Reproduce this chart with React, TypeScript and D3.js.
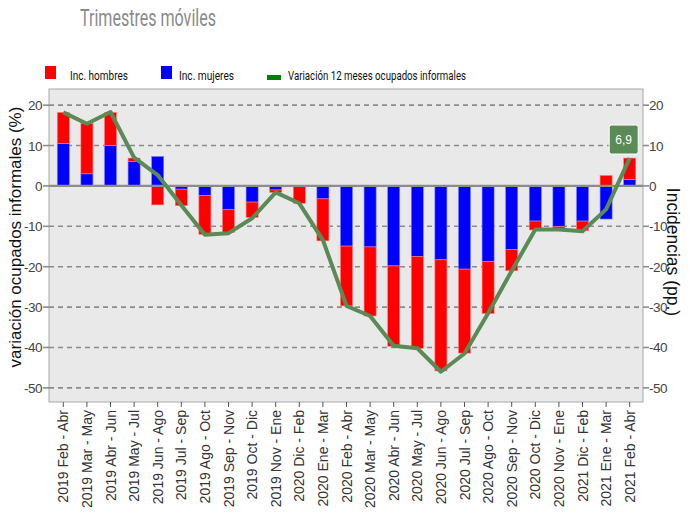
import React, { useRef, useEffect } from "react";
import * as d3 from "d3";

const categories = [
  "2019 Feb - Abr", "2019 Mar - May", "2019 Abr - Jun", "2019 May - Jul", "2019 Jun - Ago",
  "2019 Jul - Sep", "2019 Ago - Oct", "2019 Sep - Nov", "2019 Oct - Dic", "2019 Nov - Ene",
  "2020 Dic - Feb", "2020 Ene - Mar", "2020 Feb - Abr", "2020 Mar - May", "2020 Abr - Jun",
  "2020 May - Jul", "2020 Jun - Ago", "2020 Jul - Sep", "2020 Ago - Oct", "2020 Sep - Nov",
  "2020 Oct - Dic", "2020 Nov - Ene", "2021 Dic - Feb", "2021 Ene - Mar", "2021 Feb - Abr",
];

// incidencia mujeres (pp.)
const mujeres = [
  10.5, 3.0, 10.0, 6.0, 7.3, -0.8, -2.4, -5.9, -4.0, -1.0,
  0.0, -3.2, -14.9, -15.1, -19.8, -17.5, -18.3, -20.6, -18.7, -15.7,
  -8.7, -10.1, -8.7, -8.2, 1.6,
];

// incidencia hombres (pp.)
const hombres = [
  7.7, 12.5, 8.2, 0.9, -4.7, -4.1, -9.6, -5.6, -3.8, -0.6,
  -4.3, -10.4, -14.8, -17.1, -19.9, -22.7, -27.5, -20.8, -12.9, -5.3,
  -2.2, -0.6, -2.4, 2.6, 5.3,
];

// variación 12 meses ocupados informales (%)
const variacion = [
  18.2, 15.4, 18.3, 7.0, 2.7, -4.8, -12.1, -11.7, -8.0, -1.6,
  -4.3, -13.4, -29.7, -32.2, -39.6, -40.2, -46.0, -41.5, -31.5, -21.0,
  -10.8, -10.8, -11.2, -5.8, 6.9,
];

const yTicks = [20, 10, 0, -10, -20, -30, -40, -50];

const App = () => {
  const svgRef = useRef<SVGSVGElement>(null);

  useEffect(() => {
    const width = 690;
    const height = 514;
    const plot = { left: 49, right: 643, top: 89, bottom: 402 };

    const svg = d3.select(svgRef.current);
    svg.selectAll("*").remove();

    const x = d3
      .scaleBand()
      .domain(categories)
      .range([51.5, 641.5])
      .paddingInner(0.49)
      .paddingOuter(0.245);

    const xc = (d: string) => (x(d) as number) + x.bandwidth() / 2;

    const y = d3.scaleLinear().domain([-53.5, 24]).range([plot.bottom, plot.top]);

    // title
    svg
      .append("text")
      .attr("x", 80)
      .attr("y", 26)
      .attr("fill", "#8a8a8a")
      .attr("textLength", 136)
      .attr("lengthAdjust", "spacingAndGlyphs")
      .style("font-family", "Roboto, 'DejaVu Sans'")
      .style("font-weight", 400)
      .style("font-size", "24px")
      .text("Trimestres móviles");

    // legend
    const legFont = "Roboto, 'DejaVu Sans'";
    const legendItems = [
      { label: "Inc. hombres", color: "#ff0000", x: 45, tx: 70, w: 58, kind: "rect" },
      { label: "Inc. mujeres", color: "#0000ff", x: 161, tx: 179, w: 55, kind: "rect" },
      { label: "Variación 12 meses ocupados informales", color: "#008000", x: 267, tx: 288, w: 178, kind: "line" },
    ];
    const legend = svg.append("g");
    legendItems.forEach((it) => {
      if (it.kind === "rect") {
        legend
          .append("rect")
          .attr("x", it.x)
          .attr("y", 66)
          .attr("width", 11)
          .attr("height", 13)
          .attr("fill", it.color);
      } else {
        legend
          .append("rect")
          .attr("x", it.x)
          .attr("y", 75)
          .attr("width", 14)
          .attr("height", 5)
          .attr("fill", it.color);
      }
      legend
        .append("text")
        .attr("x", it.tx)
        .attr("y", 80)
        .attr("fill", "#111")
        .attr("textLength", it.w)
        .attr("lengthAdjust", "spacingAndGlyphs")
        .style("font-family", legFont)
        .style("font-size", "13.5px")
        .text(it.label);
    });

    // plot background
    svg
      .append("rect")
      .attr("x", plot.left)
      .attr("y", plot.top)
      .attr("width", plot.right - plot.left)
      .attr("height", plot.bottom - plot.top)
      .attr("fill", "#e9e9e9")
      .attr("stroke", "#a8a8a8")
      .attr("stroke-width", 1);

    // grid lines
    svg
      .append("g")
      .selectAll("line")
      .data(yTicks.filter((t) => t !== 0))
      .enter()
      .append("line")
      .attr("x1", plot.left)
      .attr("x2", plot.right)
      .attr("y1", (d) => y(d))
      .attr("y2", (d) => y(d))
      .attr("stroke", "#8c8c8c")
      .attr("stroke-width", 1.6)
      .attr("stroke-dasharray", "5,4");

    // stacked bars: mujeres first, hombres on top (separate stacks for + and -)
    const barData: { cat: string; y0: number; y1: number; color: string }[] = [];
    categories.forEach((c, i) => {
      let pos = 0;
      let neg = 0;
      [
        { v: mujeres[i], color: "#0000ff" },
        { v: hombres[i], color: "#ff0000" },
      ].forEach((s) => {
        if (s.v >= 0) {
          barData.push({ cat: c, y0: pos, y1: pos + s.v, color: s.color });
          pos += s.v;
        } else {
          barData.push({ cat: c, y0: neg, y1: neg + s.v, color: s.color });
          neg += s.v;
        }
      });
    });

    svg
      .append("g")
      .selectAll("rect")
      .data(barData)
      .enter()
      .append("rect")
      .attr("x", (d) => x(d.cat) as number)
      .attr("width", x.bandwidth())
      .attr("y", (d) => y(Math.max(d.y0, d.y1)))
      .attr("height", (d) => Math.abs(y(d.y0) - y(d.y1)))
      .attr("fill", (d) => d.color)
      .attr("stroke", (d) => (d.color === "#ff0000" ? "#ff8080" : "#8080ff"))
      .attr("stroke-width", 0.6);

    // zero line
    svg
      .append("line")
      .attr("x1", plot.left)
      .attr("x2", plot.right)
      .attr("y1", y(0))
      .attr("y2", y(0))
      .attr("stroke", "#8c8c8c")
      .attr("stroke-width", 2.2);

    // variation line
    const line = d3
      .line<number>()
      .x((_, i) => xc(categories[i]))
      .y((d) => y(d));

    svg
      .append("path")
      .datum(variacion)
      .attr("fill", "none")
      .attr("stroke", "#5a8a55")
      .attr("stroke-width", 4)
      .attr("stroke-linejoin", "round")
      .attr("d", line);

    // last value label
    const last = variacion.length - 1;
    const lx = xc(categories[last]) - 6;
    const ly = y(variacion[last]) - 18;
    svg
      .append("rect")
      .attr("x", lx - 14.5)
      .attr("y", ly - 15)
      .attr("width", 29)
      .attr("height", 29)
      .attr("rx", 2.5)
      .attr("fill", "#5a8a55")
      .attr("stroke", "#ffffff")
      .attr("stroke-width", 1);
    svg
      .append("text")
      .attr("x", lx)
      .attr("y", ly + 4)
      .attr("text-anchor", "middle")
      .attr("fill", "#ffffff")
      .style("font-family", "'Liberation Sans', Arial")
      .style("font-size", "12px")
      .text(String(variacion[last]).replace(".", ","));

    const tickFont = "'Liberation Sans', Arial";

    // left axis
    const left = svg.append("g");
    yTicks.forEach((t) => {
      left
        .append("line")
        .attr("x1", plot.left - 6)
        .attr("x2", plot.left)
        .attr("y1", y(t))
        .attr("y2", y(t))
        .attr("stroke", "#8c8c8c")
        .attr("stroke-width", 1.6);
      left
        .append("text")
        .attr("x", plot.left - 7)
        .attr("y", y(t) + 5)
        .attr("text-anchor", "end")
        .attr("fill", "#444")
        .style("font-family", tickFont)
        .style("font-size", "13.5px")
        .style("letter-spacing", "-0.5px")
        .text(t);
    });

    // right axis
    const right = svg.append("g");
    yTicks.forEach((t) => {
      right
        .append("line")
        .attr("x1", plot.right)
        .attr("x2", plot.right + 6)
        .attr("y1", y(t))
        .attr("y2", y(t))
        .attr("stroke", "#8c8c8c")
        .attr("stroke-width", 1.6);
      right
        .append("text")
        .attr("x", plot.right + 6)
        .attr("y", y(t) + 5)
        .attr("text-anchor", "start")
        .attr("fill", "#444")
        .style("font-family", tickFont)
        .style("font-size", "13.5px")
        .style("letter-spacing", "-0.5px")
        .text(t);
    });

    // x axis ticks and labels
    const bottom = svg.append("g");
    categories.forEach((c) => {
      bottom
        .append("line")
        .attr("x1", xc(c))
        .attr("x2", xc(c))
        .attr("y1", plot.bottom)
        .attr("y2", plot.bottom + 5)
        .attr("stroke", "#555");
      bottom
        .append("text")
        .attr("transform", `translate(${xc(c) + 5},${plot.bottom + 8}) rotate(-90)`)
        .attr("text-anchor", "end")
        .attr("fill", "#333")
        .style("font-family", tickFont)
        .style("font-size", "14px")
        .text(c);
    });

    // axis titles
    svg
      .append("text")
      .attr("transform", `translate(21,237) rotate(-90)`)
      .attr("text-anchor", "middle")
      .attr("fill", "#111")
      .style("font-family", tickFont)
      .style("font-size", "17px")
      .text("variación ocupados informales (%)");

    svg
      .append("text")
      .attr("transform", `translate(667,252) rotate(90)`)
      .attr("text-anchor", "middle")
      .attr("fill", "#111")
      .style("font-family", tickFont)
      .style("font-size", "17.5px")
      .text("Incidencias (pp.)");

    svg.attr("width", width).attr("height", height);
  }, []);

  return (
    <svg
      ref={svgRef}
      width={690}
      height={514}
      style={{ position: "absolute", left: 0, top: 0, background: "#fff" }}
    ></svg>
  );
};

export default App;
